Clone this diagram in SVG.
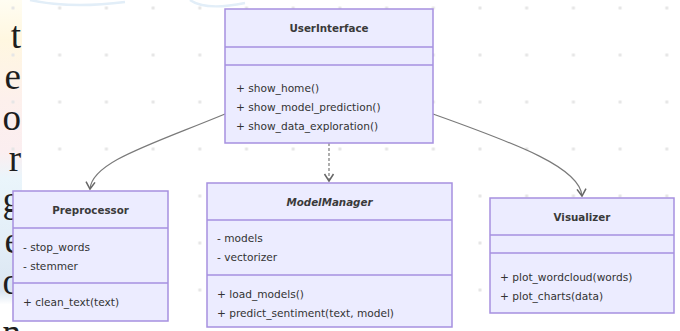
<svg xmlns="http://www.w3.org/2000/svg" width="680" height="331" viewBox="0 0 680 331">
<defs>
<style>
.box{fill:#ECECFF;stroke:#a690e0;stroke-width:1.5}
.div{stroke:#a690e0;stroke-width:1.5}
.t{font-family:"DejaVu Sans",Verdana,sans-serif;font-size:10.6px;fill:#333}
.ti{font-family:"DejaVu Sans",Verdana,sans-serif;font-size:10.3px;font-weight:bold;fill:#3a3a3a;text-anchor:middle}
.edge{fill:none;stroke:#7a7a7a;stroke-width:1.2}
.bg{font-family:"Liberation Serif","Times New Roman",serif;font-size:37px;fill:#1e1e1e;text-anchor:end}
</style>
<pattern id="dots" x="13" y="8" width="46.7" height="47" patternUnits="userSpaceOnUse">
<rect x="-1.5" y="-1.5" width="3" height="3" fill="#e6e6e6"/>
<rect x="45.2" y="-1.5" width="3" height="3" fill="#e6e6e6"/>
<rect x="-1.5" y="45.5" width="3" height="3" fill="#e6e6e6"/>
<rect x="45.2" y="45.5" width="3" height="3" fill="#e6e6e6"/>
</pattern>
<linearGradient id="strip" x1="0" y1="0" x2="0" y2="1">
<stop offset="0" stop-color="#fffdf2"/>
<stop offset="0.12" stop-color="#fff7e0"/>
<stop offset="0.3" stop-color="#fdf0ec"/>
<stop offset="0.46" stop-color="#fbeef0"/>
<stop offset="0.54" stop-color="#eaf5fb"/>
<stop offset="0.75" stop-color="#e2edf7"/>
<stop offset="0.88" stop-color="#dbe6f2"/>
<stop offset="0.92" stop-color="#ffffff"/>
</linearGradient>
<marker id="arr" markerWidth="12" markerHeight="12" refX="10" refY="6" orient="auto" markerUnits="userSpaceOnUse">
<path d="M3,1.5 L10,6 L3,10.5" fill="none" stroke="#666" stroke-width="1.5"/>
</marker>
</defs>
<rect width="680" height="331" fill="#ffffff"/>
<rect x="0" y="0" width="22" height="331" fill="url(#strip)"/>
<rect width="680" height="331" fill="url(#dots)"/>
<path d="M30,0 Q70,9 125,2" fill="none" stroke="#e2eef8" stroke-width="2.5"/>
<path d="M190,0 Q205,11 245,3" fill="none" stroke="#e2eef8" stroke-width="2.5"/>
<g id="bgtext">
<text class="bg" x="21" y="48">t</text>
<text class="bg" x="21" y="89">e</text>
<text class="bg" x="21" y="130">o</text>
<text class="bg" x="21" y="171">r</text>
<text class="bg" x="21" y="212">g</text>
<text class="bg" x="21" y="253">e</text>
<text class="bg" x="21" y="294">o</text>
<text class="bg" x="21" y="345">n</text>
</g>
<g id="connectors">
<path class="edge" d="M225,114 C150,145 92,162 90,189" marker-end="url(#arr)"/>
<path class="edge" d="M329,143 L329,181" stroke-dasharray="3,2" marker-end="url(#arr)"/>
<path class="edge" d="M433,114 C520,145 580,168 582,196" marker-end="url(#arr)"/>
</g>
<g id="UserInterface">
<rect class="box" x="225" y="9" width="208" height="134"/>
<line class="div" x1="225" y1="47" x2="433" y2="47"/>
<line class="div" x1="225" y1="65" x2="433" y2="65"/>
<text class="ti" x="329" y="32">UserInterface</text>
<text class="t" x="236" y="92">+ show_home()</text>
<text class="t" x="236" y="111">+ show_model_prediction()</text>
<text class="t" x="236" y="130">+ show_data_exploration()</text>
</g>
<g id="Preprocessor">
<rect class="box" x="13" y="191" width="155" height="130"/>
<line class="div" x1="13" y1="228" x2="168" y2="228"/>
<line class="div" x1="13" y1="283" x2="168" y2="283"/>
<text class="ti" x="90.5" y="214">Preprocessor</text>
<text class="t" x="23" y="251">- stop_words</text>
<text class="t" x="23" y="270">- stemmer</text>
<text class="t" x="23" y="306">+ clean_text(text)</text>
</g>
<g id="ModelManager">
<rect class="box" x="207" y="183" width="245" height="144"/>
<line class="div" x1="207" y1="220" x2="452" y2="220"/>
<line class="div" x1="207" y1="275" x2="452" y2="275"/>
<text class="ti" x="329.5" y="206" font-style="italic">ModelManager</text>
<text class="t" x="217" y="242">- models</text>
<text class="t" x="217" y="261">- vectorizer</text>
<text class="t" x="217" y="298">+ load_models()</text>
<text class="t" x="217" y="317">+ predict_sentiment(text, model)</text>
</g>
<g id="Visualizer">
<rect class="box" x="490" y="198" width="184" height="115"/>
<line class="div" x1="490" y1="235" x2="674" y2="235"/>
<line class="div" x1="490" y1="253" x2="674" y2="253"/>
<text class="ti" x="582" y="221">Visualizer</text>
<text class="t" x="500" y="281">+ plot_wordcloud(words)</text>
<text class="t" x="500" y="300">+ plot_charts(data)</text>
</g>
</svg>
